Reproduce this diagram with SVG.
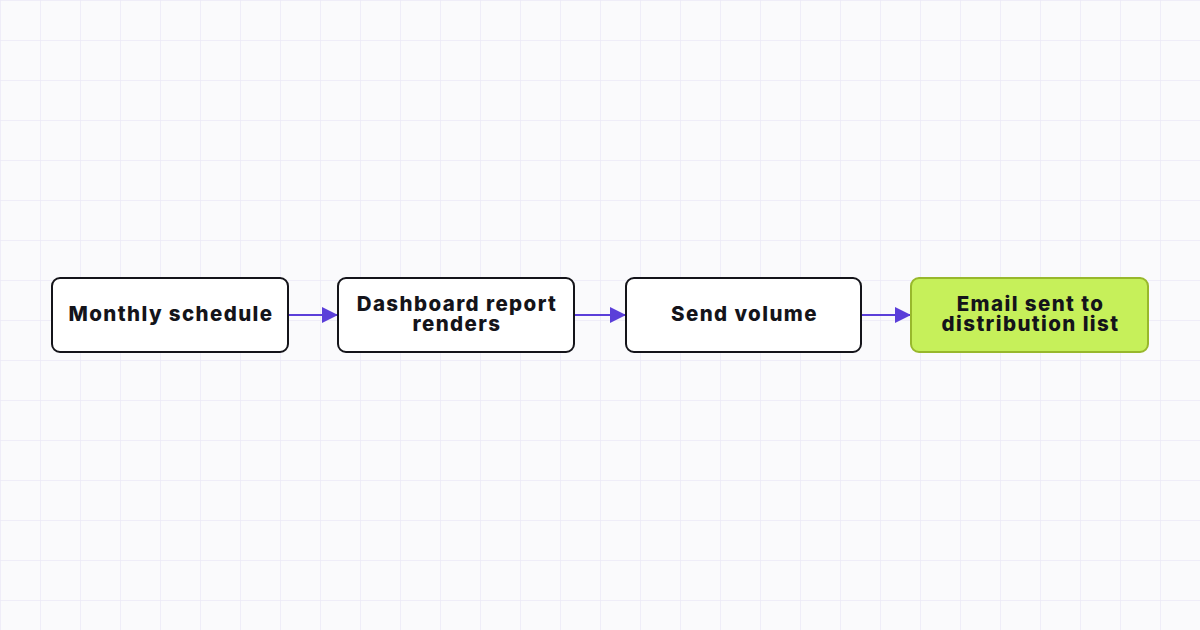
<svg xmlns="http://www.w3.org/2000/svg" width="1200" height="630" viewBox="0 0 1200 630">
<defs>
<pattern id="grid" width="40" height="40" patternUnits="userSpaceOnUse">
<path d="M0 0H40M0 0V40" fill="none" stroke="#ebe9f7" stroke-width="1.5"/>
</pattern>
<marker id="arr" viewBox="0 0 16 16" refX="16" refY="8" markerWidth="16" markerHeight="16" markerUnits="userSpaceOnUse" orient="auto">
<path d="M0 0L16 8L0 16Z" fill="#5b3fd9"/>
</marker>
</defs>
<style>
.n{fill:#fff;stroke:#14141a;stroke-width:2}
.g{fill:#c6f05a;stroke:#98b82c;stroke-width:2}
.t{font-family:Inter,"Liberation Sans",sans-serif;font-weight:800;font-size:20.5px;letter-spacing:1.4px;fill:#14141a;text-anchor:middle}
.c{stroke:#5b3fd9;stroke-width:2;fill:none}
</style>
<rect width="1200" height="630" fill="#fafafc"/>
<rect width="1200" height="630" fill="url(#grid)"/>
<g id="connectors">
<line class="c" x1="288" y1="315" x2="338" y2="315" marker-end="url(#arr)"/>
<line class="c" x1="574" y1="315" x2="626" y2="315" marker-end="url(#arr)"/>
<line class="c" x1="861" y1="315" x2="911" y2="315" marker-end="url(#arr)"/>
</g>
<g id="n1">
<rect class="n" x="52" y="278" width="236" height="74" rx="8"/>
<text class="t" x="171" y="321">Monthly schedule</text>
</g>
<g id="n2">
<rect class="n" x="338" y="278" width="236" height="74" rx="8"/>
<text class="t" x="457" y="311">Dashboard report</text>
<text class="t" x="457" y="331">renders</text>
</g>
<g id="n3">
<rect class="n" x="626" y="278" width="235" height="74" rx="8"/>
<text class="t" x="744.500" y="321">Send volume</text>
</g>
<g id="n4">
<rect class="g" x="911" y="278" width="237" height="74" rx="8"/>
<text class="t" x="1030.500" y="311">Email sent to</text>
<text class="t" x="1030.500" y="331">distribution list</text>
</g>
</svg>
